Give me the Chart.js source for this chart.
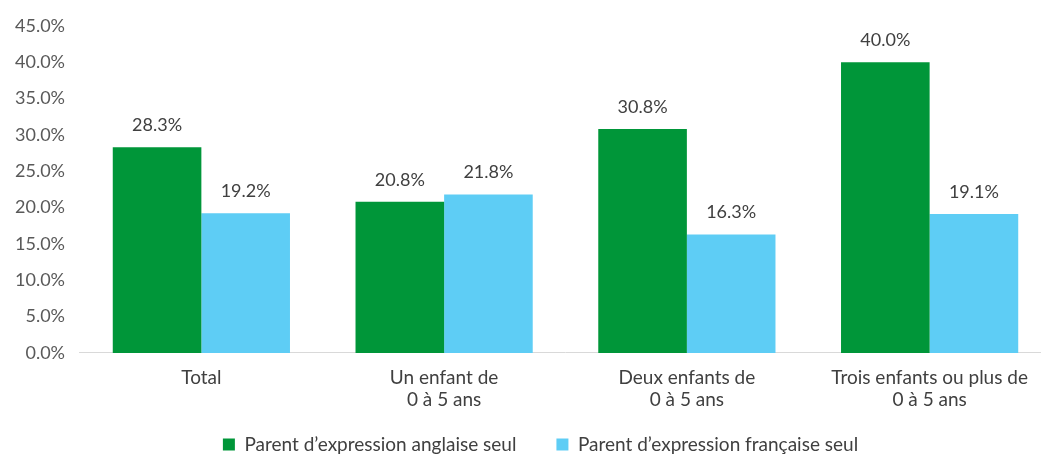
<!DOCTYPE html>
<html>
<head>
<meta charset="utf-8">
<script src="https://cdn.jsdelivr.net/npm/chart.js@4/dist/chart.umd.min.js"></script>
<style>
    html, body { margin: 0; padding: 0; background: #fff; overflow: hidden; }
    #wrap { width: 1072px; height: 464px; }
</style>
</head>
<body>
<div id="wrap"><canvas id="chart"></canvas></div>
<script>
const categories = [
    'Total',
    ['Un enfant de', '0 à 5 ans'],
    ['Deux enfants de', '0 à 5 ans'],
    ['Trois enfants ou plus de', '0 à 5 ans']
];
const anglaisValues = [28.3, 20.8, 30.8, 40.0];
const francaisValues = [19.2, 21.8, 16.3, 19.1];
const seriesLabels = ['Parent d’expression anglaise seul', 'Parent d’expression française seul'];
const yTicks = [0, 5, 10, 15, 20, 25, 30, 35, 40, 45];

const fontFamily = 'Lato, "Open Sans", sans-serif';
const legendGap = 40;

const valueLabels = {
    id: 'valueLabels',
    afterDatasetsDraw(chart) {
        const ctx = chart.ctx;
        ctx.save();
        ctx.font = '18px ' + fontFamily;
        ctx.fillStyle = '#404040';
        ctx.textAlign = 'center';
        ctx.textBaseline = 'middle';
        chart.data.datasets.forEach((ds, i) => {
            chart.getDatasetMeta(i).data.forEach((bar, j) => {
                ctx.fillText(ds.data[j].toFixed(1) + '%', bar.x, bar.y - 22);
            });
        });
        ctx.restore();
    }
};

// wide gap between legend items without a tall legend box,
// and centre it a bit to the right like the source
const legendLayout = {
    id: 'legendLayout',
    afterInit(chart) {
        const legend = chart.legend;
        const fit = legend.fit.bind(legend);
        legend.fit = function () {
            fit();
            this.height -= legendGap - 10;
        };
    },
    afterLayout(chart) {
        const legend = chart.legend;
        legend.left += 15;
        legend.right += 15;
        legend.top -= legendGap - 10;
        legend.bottom = chart.height;
        legend.height = legend.bottom - legend.top;
    }
};

new Chart(document.getElementById('chart'), {
    type: 'bar',
    data: {
        labels: categories,
        datasets: [
            { label: seriesLabels[0], data: anglaisValues, backgroundColor: '#009639' },
            { label: seriesLabels[1], data: francaisValues, backgroundColor: '#5ECDF5' }
        ]
    },
    options: {
        responsive: true,
        maintainAspectRatio: false,
        animation: false,
        layout: { padding: { left: 0, top: 3, right: 21, bottom: 0 } },
        datasets: { bar: { categoryPercentage: 0.73, barPercentage: 1.0 } },
        scales: {
            x: {
                grid: { display: false, drawTicks: false },
                border: { display: true, color: '#d9d9d9', width: 1 },
                ticks: { color: '#404040', font: { family: fontFamily, size: 19, lineHeight: 1.16 }, padding: 14, maxRotation: 0 }
            },
            y: {
                min: 0,
                max: 45,
                afterBuildTicks: axis => { axis.ticks = yTicks.map(v => ({ value: v })); },
                grid: { display: false, drawTicks: false },
                border: { display: false },
                ticks: {
                    color: '#595959',
                    font: { family: fontFamily, size: 18 },
                    padding: 15,
                    callback: v => v.toFixed(1) + '%'
                }
            }
        },
        plugins: {
            legend: {
                position: 'bottom',
                labels: {
                    color: '#404040',
                    font: { family: fontFamily, size: 19 },
                    boxWidth: 12,
                    boxHeight: 12,
                    padding: legendGap
                }
            },
            tooltip: { enabled: false }
        }
    },
    plugins: [valueLabels, legendLayout]
});
</script>
</body>
</html>
